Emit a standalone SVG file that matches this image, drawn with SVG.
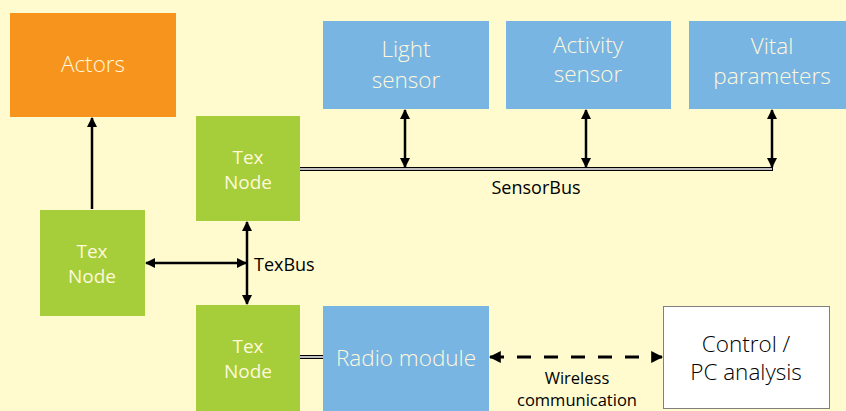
<svg xmlns="http://www.w3.org/2000/svg" width="846" height="411" viewBox="0 0 846 411">
<defs>
<marker id="ah" viewBox="0 0 10 10" refX="9" refY="5" markerWidth="4" markerHeight="4" orient="auto-start-reverse" markerUnits="strokeWidth">
<path d="M0,0 L10,5 L0,10 Z" fill="#000"/>
</marker>
<style>
.bg{fill:#FFFBCF}
.orange{fill:#F7941E}
.green{fill:#A5CE3A}
.blue{fill:#78B5E2}
.white{fill:#FFFFFF;stroke:#7F7F7F;stroke-width:1}
.t{font-family:"Open Sans","Noto Sans","Liberation Sans",sans-serif;fill:#FFF8DC;text-anchor:middle}
.big{font-size:22.5px;font-weight:300}
.tex{font-size:19px}
.lbl{font-family:"Open Sans","Noto Sans","Liberation Sans",sans-serif;fill:#000;font-size:18px}
.sm{font-size:16.5px}
.dark{fill:#000;font-weight:300}
.arr{stroke:#000;stroke-width:2.5;fill:none;marker-start:url(#ah);marker-end:url(#ah)}
.dbl{stroke:#000;stroke-width:4;fill:none}
.dbli{stroke:#fff;stroke-width:1.5;fill:none}
</style>
</defs>
<rect class="bg" x="0" y="0" width="846" height="411"/>
<g id="actors"><rect class="orange" x="10" y="13" width="166" height="104"/><text class="t big" x="93" y="72">Actors</text></g>
<g id="light"><rect class="blue" x="323" y="21" width="166" height="88"/><text class="t big" x="406" y="57">Light</text><text class="t big" x="406" y="88">sensor</text></g>
<g id="activity"><rect class="blue" x="506" y="21" width="165" height="88"/><text class="t big" x="588" y="53">Activity</text><text class="t big" x="588" y="82">sensor</text></g>
<g id="vital"><rect class="blue" x="689" y="21" width="157" height="88"/><text class="t big" x="772" y="54">Vital</text><text class="t big" x="772" y="84">parameters</text></g>
<g id="texTop"><rect class="green" x="196" y="116" width="104" height="105"/><text class="t tex" x="248" y="164">Tex</text><text class="t tex" x="248" y="189">Node</text></g>
<g id="texLeft"><rect class="green" x="40" y="210" width="105" height="106"/><text class="t tex" x="92" y="258">Tex</text><text class="t tex" x="92" y="283">Node</text></g>
<g id="texBottom"><rect class="green" x="196" y="305" width="104" height="106"/><text class="t tex" x="248" y="353">Tex</text><text class="t tex" x="248" y="378">Node</text></g>
<g id="radio"><rect class="blue" x="323" y="306" width="166" height="105"/><text class="t big" x="406" y="366">Radio module</text></g>
<g id="control"><rect class="white" x="663.5" y="306.5" width="166" height="102"/><text class="t big dark" x="746" y="352">Control /</text><text class="t big dark" x="746" y="380">PC analysis</text></g>
<g id="connectors">
<path class="dbl" d="M300,169 H773"/><path class="dbli" d="M300,169 H772"/>
<path class="dbl" d="M300,357 H323"/><path class="dbli" d="M300,357 H323"/>
<path class="arr" d="M405,110 V167"/>
<path class="arr" d="M586,110 V167"/>
<path class="arr" d="M772,110 V167"/>
<path class="arr" d="M92,209 V118" style="marker-start:none"/>
<path class="arr" d="M146,263 H246"/>
<path class="arr" d="M247,222 V304"/>
<path d="M490,357 H662" stroke="#000" stroke-width="3" fill="none" stroke-dasharray="14 13" style="marker-start:url(#ah);marker-end:url(#ah)"/>
<text class="lbl" x="536" y="194" text-anchor="middle">SensorBus</text>
<text class="lbl" x="254" y="271">TexBus</text>
<text class="lbl sm" x="577" y="384" text-anchor="middle">Wireless</text>
<text class="lbl sm" x="577" y="406" text-anchor="middle">communication</text>
</g>
</svg>
